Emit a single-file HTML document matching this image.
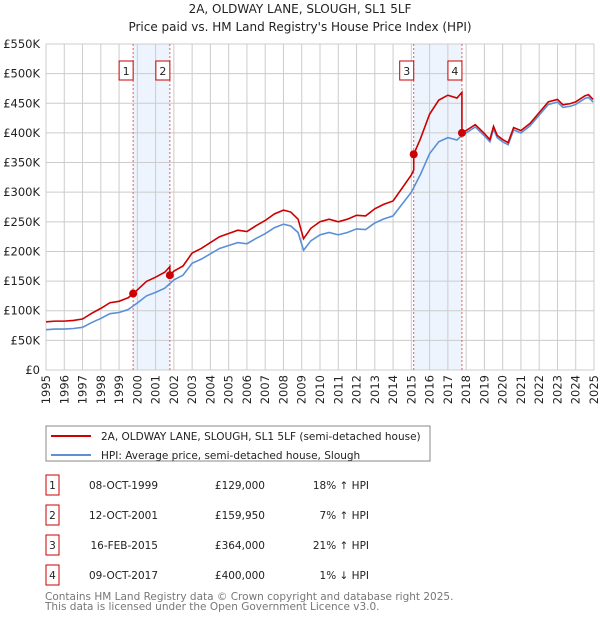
<!DOCTYPE html>
<html><head><meta charset="utf-8">
<style>
body{margin:0;background:#fff;font-family:"DejaVu Sans","Liberation Sans",sans-serif;}
#wrap{position:relative;width:600px;height:620px;overflow:hidden;}
svg{position:absolute;left:0;top:0;font-family:"DejaVu Sans","Liberation Sans",sans-serif;}
</style></head>
<body><div id="wrap">
<svg id="chart" width="600" height="620"></svg>
</div>
<script>
const hpiYears=[1995,1995.5,1996,1996.5,1997,1997.5,1998,1998.5,1999,1999.5,2000,2000.5,2001,2001.5,2002,2002.5,2003,2003.5,2004,2004.5,2005,2005.5,2006,2006.5,2007,2007.5,2008,2008.4,2008.8,2009.1,2009.5,2010,2010.5,2011,2011.5,2012,2012.5,2013,2013.5,2014,2014.5,2015,2015.5,2016,2016.5,2017,2017.5,2017.8,2018,2018.5,2019,2019.3,2019.5,2019.7,2020,2020.3,2020.6,2021,2021.5,2022,2022.5,2023,2023.3,2023.7,2024,2024.5,2024.7,2024.95];
const hpiValues=[68,69,69,70,72,80,87,95,97,102,113,125,131,138,152,160,180,187,196,205,210,215,213,222,230,240,246,243,232,202,218,228,232,228,232,238,237,248,255,260,280,300,330,365,385,392,388,397,400,410,395,385,407,392,385,380,405,400,412,430,448,452,443,445,448,458,460,452];
const saleLabels=["1","2","3","4"];
const saleDates=[1999.77,2001.78,2015.13,2017.77];
const salePrices=[129,159.95,364,400];
const saleDateText=["08-OCT-1999","12-OCT-2001","16-FEB-2015","09-OCT-2017"];
const salePriceText=["£129,000","£159,950","£364,000","£400,000"];
const saleHpiText=["18% ↑ HPI","7% ↑ HPI","21% ↑ HPI","1% ↓ HPI"];
const yTicks=[0,50,100,150,200,250,300,350,400,450,500,550];
const yTickLabels=["£0","£50K","£100K","£150K","£200K","£250K","£300K","£350K","£400K","£450K","£500K","£550K"];
const xTicks=[1995,1996,1997,1998,1999,2000,2001,2002,2003,2004,2005,2006,2007,2008,2009,2010,2011,2012,2013,2014,2015,2016,2017,2018,2019,2020,2021,2022,2023,2024,2025];

const NS="http://www.w3.org/2000/svg";
const svg=document.getElementById('chart');
const X=y=>46+(y-1995)*(548/30);
const Y=v=>370-v*(326/550);
function mk(tag,attrs,parent){const e=document.createElementNS(NS,tag);for(const k in attrs)e.setAttribute(k,attrs[k]);(parent||svg).appendChild(e);return e;}
function hpiAt(t){for(let i=0;i<hpiYears.length-1;i++){if(t>=hpiYears[i]&&t<=hpiYears[i+1]){const f=(t-hpiYears[i])/(hpiYears[i+1]-hpiYears[i]);return hpiValues[i]+f*(hpiValues[i+1]-hpiValues[i]);}}return hpiValues[hpiValues.length-1];}

for(let i=0;i<4;i+=2){const r=mk('rect',{x:X(saleDates[i]),y:Y(550),width:X(saleDates[i+1])-X(saleDates[i]),height:Y(0)-Y(550),fill:'#eef4fd'});

}
xTicks.forEach(t=>{const l=mk('line',{x1:X(t),x2:X(t),y1:Y(550),y2:Y(0),stroke:'#cccccc','stroke-width':1});


const tx=mk('text',{x:0,y:0,'font-size':11.5,'text-anchor':'end','dominant-baseline':'central',fill:'#222',transform:'translate('+X(t)+',375) rotate(-90)'});tx.textContent=t;

});
yTicks.forEach((v,i)=>{const l=mk('line',{x1:X(1995),x2:X(2025),y1:Y(v),y2:Y(v),stroke:'#cccccc','stroke-width':1});


const tx=mk('text',{x:40,y:Y(v)+4,'font-size':11.5,'text-anchor':'end',fill:'#222'});tx.textContent=yTickLabels[i];

});
saleDates.forEach((d,i)=>{const l=mk('line',{x1:X(d),x2:X(d),y1:Y(550),y2:Y(0),stroke:'#e06060','stroke-width':1,'stroke-dasharray':'2,2'});


const bx=X(d)-14;const r=mk('rect',{x:bx,y:61,width:14,height:19,fill:'#fff',stroke:'#cc0000','stroke-width':1});


const tx=mk('text',{x:bx+7,y:75,'font-size':11,'text-anchor':'middle',fill:'#222'});tx.textContent=saleLabels[i];

});
let pts=hpiYears.map((t,i)=>X(t)+','+Y(hpiValues[i])).join(' ');
const hp=mk('polyline',{points:pts,fill:'none',stroke:'#5b8fd6','stroke-width':1.6});


const times=[...hpiYears,...saleDates].sort((a,b)=>a-b);
let rp=[];
times.forEach(t=>{let k=0;for(let i=0;i<saleDates.length;i++)if(t>=saleDates[i])k=i;
 if(saleDates.includes(t)&&saleDates.indexOf(t)>0){const j=saleDates.indexOf(t);rp.push(X(t)+','+Y(salePrices[j-1]*hpiAt(t)/hpiAt(saleDates[j-1])));}
 rp.push(X(t)+','+Y(salePrices[k]*hpiAt(t)/hpiAt(saleDates[k])));});
const rl=mk('polyline',{points:rp.join(' '),fill:'none',stroke:'#cc0000','stroke-width':1.6});


saleDates.forEach((d,i)=>{const c=mk('circle',{cx:X(d),cy:Y(salePrices[i]),r:4,fill:'#cc0000'});

});
const t1=mk('text',{x:300,y:13,'font-size':12,'text-anchor':'middle',fill:'#222'});t1.textContent="2A, OLDWAY LANE, SLOUGH, SL1 5LF";


const t2=mk('text',{x:300,y:31,'font-size':12,'text-anchor':'middle',fill:'#222'});t2.textContent="Price paid vs. HM Land Registry's House Price Index (HPI)";


const lg=mk('rect',{x:46,y:426,width:384,height:35,fill:'#fff',stroke:'#888','stroke-width':1});


[["#cc0000","2A, OLDWAY LANE, SLOUGH, SL1 5LF (semi-detached house)",436],["#5b8fd6","HPI: Average price, semi-detached house, Slough",455]].forEach(a=>{
const l=mk('line',{x1:51,x2:91,y1:a[2],y2:a[2],stroke:a[0],'stroke-width':2});


const tx=mk('text',{x:101,y:a[2]+4,'font-size':10.5,fill:'#222'});tx.textContent=a[1];

});
saleLabels.forEach((s,i)=>{const yy=485+i*30;
const r=mk('rect',{x:46,y:yy-10,width:13,height:20,fill:'#fff',stroke:'#cc0000','stroke-width':1});


const c=[[52.5,s,'middle'],[158,saleDateText[i],'end'],[265,salePriceText[i],'end'],[369,saleHpiText[i],'end']];
c.forEach(cc=>{const tx=mk('text',{x:cc[0],y:yy+4,'font-size':10.5,'text-anchor':cc[2],fill:'#222'});tx.textContent=cc[1];

});});
const f1=mk('text',{x:45,y:600,'font-size':10.5,fill:'#777'});f1.textContent="Contains HM Land Registry data © Crown copyright and database right 2025.";


const f2=mk('text',{x:45,y:610,'font-size':10.5,fill:'#777'});f2.textContent="This data is licensed under the Open Government Licence v3.0.";


</script></body></html>
